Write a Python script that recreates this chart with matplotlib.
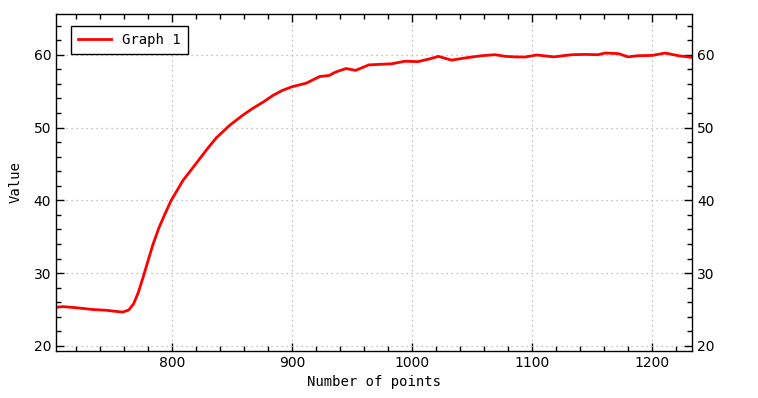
import matplotlib
matplotlib.use("Agg")
import matplotlib.pyplot as plt
from matplotlib.ticker import MultipleLocator

# values
points = [703, 709, 720, 734, 745, 753, 759, 764, 768, 772, 776, 780, 784, 789,
          794, 799, 804, 809, 816, 823, 830, 837, 848, 859, 867, 876, 884, 892, 900, 912, 923,
          931, 936, 945, 953, 964, 983, 994, 1005, 1014, 1022, 1033, 1044, 1058,
          1069, 1078, 1086, 1094, 1104, 1118, 1133, 1144, 1155, 1161, 1172, 1180,
          1188, 1200, 1211, 1222, 1233]
values = [25.3, 25.4, 25.25, 25.0, 24.9, 24.75, 24.65, 24.95, 25.8, 27.4, 29.5, 31.7, 33.9, 36.2,
          38.1, 39.9, 41.3, 42.7, 44.2, 45.7, 47.2, 48.6, 50.3, 51.7, 52.6, 53.5, 54.4, 55.1, 55.6, 56.1, 57.0,
          57.15, 57.6, 58.1, 57.85, 58.6, 58.75, 59.1, 59.05, 59.4, 59.77, 59.25, 59.55, 59.86,
          60.0, 59.77, 59.7, 59.68, 59.96, 59.7, 60.0, 60.04, 60.0, 60.23, 60.15, 59.7,
          59.86, 59.9, 60.23, 59.86, 59.63]

mono = "DejaVu Sans Mono"

fig = plt.figure(figsize=(7.58, 3.98), dpi=100)
ax = fig.add_axes([0.0739, 0.118, 0.839, 0.847])

ax.plot(points, values, color="#ff0000", linewidth=2.0, label="Graph 1")

ax.set_xlim(703.3, 1233.3)
ax.set_ylim(19.3, 65.6)
ax.xaxis.set_major_locator(MultipleLocator(100))
ax.xaxis.set_minor_locator(MultipleLocator(20))
ax.yaxis.set_major_locator(MultipleLocator(10))
ax.yaxis.set_minor_locator(MultipleLocator(2))

ax.tick_params(which="both", direction="in", top=True, right=True, labelright=True,
               labelsize=10, width=1, colors="black")
ax.tick_params(which="major", length=6)
ax.tick_params(which="minor", length=3.5)
for s in ax.spines.values():
    s.set_linewidth(1)

ax.grid(True, which="major", linestyle=(0, (1, 3)), color="#b0b0b0", linewidth=0.9)

ax.set_xlabel("Number of points", fontfamily=mono, fontsize=10, labelpad=4)
ax.set_ylabel("Value", fontfamily=mono, fontsize=10, labelpad=8)

leg = ax.legend(loc="upper left", prop={"family": mono, "size": 10}, fancybox=False,
                edgecolor="black", framealpha=1, handlelength=2.4, borderpad=0.5,
                bbox_to_anchor=(0.012, 0.985))
leg.get_frame().set_linewidth(1)

plt.savefig("out.png", dpi=100)
